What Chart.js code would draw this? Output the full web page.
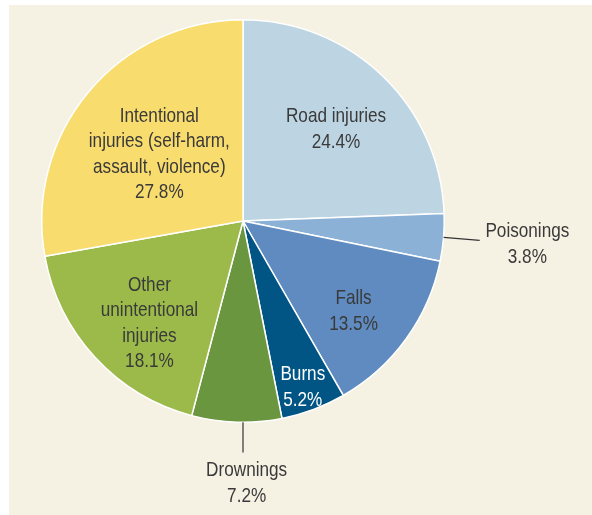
<!DOCTYPE html>
<html>
<head>
<meta charset="utf-8">
<script src="https://cdn.jsdelivr.net/npm/chart.js@4.4.0/dist/chart.umd.min.js"></script>
<style>
  html, body { margin: 0; padding: 0; background: #ffffff; }
  #wrap { position: relative; width: 592px; height: 515px; }
  #panel { position: absolute; left: 9px; top: 5px; right: 0; bottom: 0; background: #f5f1e3; }
  #chart { position: absolute; left: 0; top: 0; }
</style>
</head>
<body>
<div id="wrap">
  <div id="panel"></div>
  <canvas id="chart" width="592" height="515"></canvas>
</div>
<script>
// --- Data ---
const categories = ['Road injuries', 'Poisonings', 'Falls', 'Burns', 'Drownings', 'Other unintentional injuries', 'Intentional injuries (self-harm, assault, violence)'];
const labelLines = [
    ['Road injuries'],
    ['Poisonings'],
    ['Falls'],
    ['Burns'],
    ['Drownings'],
    ['Other', 'unintentional', 'injuries'],
    ['Intentional', 'injuries (self-harm,', 'assault, violence)']
];
const shares = [24.4, 3.8, 13.5, 5.2, 7.2, 18.1, 27.8];
const sliceColors = ['#bdd5e2', '#8cb1d7', '#5f8bc0', '#005584', '#6a963f', '#9cba4a', '#f9dc6e'];

// --- Label placement (radius as fraction of pie radius, angle in degrees from 3 o'clock) ---
const labelLayout = [
    { r: 0.656, angle: -45.2 },
    { r: 1.417, angle: 4.3, leader: [1.0, 1.18] },
    { r: 0.704, angle: 38.7 },
    { r: 0.869, angle: 70, color: '#ffffff' },
    { r: 1.295, angle: 89.2, leader: [1.0, 1.15], leaderAngle: 90 },
    { r: 0.683, angle: 132.9 },
    { r: 0.538, angle: 219.4 }
];

// no narrow font installed, so squeeze Liberation Sans horizontally
const FONT = '"Liberation Sans", Arial, sans-serif';
const FONT_SIZE = 21;
const SQUEEZE = 0.817;
const LINE_H = 25.5;
const CAP_HALF = 7.5;

const pieLabels = {
    id: 'pieLabels',
    afterDatasetsDraw(chart) {
        const ctx = chart.ctx;
        const arcs = chart.getDatasetMeta(0).data;
        ctx.save();
        ctx.font = FONT_SIZE + 'px ' + FONT;
        ctx.textAlign = 'center';
        ctx.textBaseline = 'alphabetic';
        arcs.forEach((arc, i) => {
            const lay = labelLayout[i];
            const R = arc.outerRadius;
            const mid = (arc.startAngle + arc.endAngle) / 2;
            const a = lay.angle !== undefined ? lay.angle * Math.PI / 180 : mid;
            if (lay.leader) {
                const la = lay.leaderAngle !== undefined ? lay.leaderAngle * Math.PI / 180 : mid;
                ctx.beginPath();
                ctx.strokeStyle = '#333333';
                ctx.lineWidth = 1.2;
                ctx.moveTo(arc.x + Math.cos(la) * R * lay.leader[0], arc.y + Math.sin(la) * R * lay.leader[0]);
                ctx.lineTo(arc.x + Math.cos(la) * R * lay.leader[1], arc.y + Math.sin(la) * R * lay.leader[1]);
                ctx.stroke();
            }
            const cx = arc.x + Math.cos(a) * R * lay.r;
            const cy = arc.y + Math.sin(a) * R * lay.r;
            const lines = labelLines[i].concat([shares[i].toFixed(1) + '%']);
            const y0 = cy - (lines.length - 1) * LINE_H / 2 + CAP_HALF;
            ctx.fillStyle = lay.color || '#3a3a3a';
            lines.forEach((t, k) => {
                ctx.save();
                ctx.translate(cx, y0 + k * LINE_H);
                ctx.scale(SQUEEZE, 1);
                ctx.fillText(t, 0, 0);
                ctx.restore();
            });
        });
        ctx.restore();
    }
};

new Chart(document.getElementById('chart'), {
    type: 'pie',
    data: {
        labels: categories,
        datasets: [{
            data: shares,
            backgroundColor: sliceColors,
            borderColor: '#ffffff',
            borderWidth: 1.5
        }]
    },
    options: {
        responsive: false,
        animation: false,
        layout: { padding: { left: 41, right: 147, top: 19, bottom: 92 } },
        plugins: {
            legend: { display: false },
            tooltip: { enabled: false }
        }
    },
    plugins: [pieLabels]
});
</script>
</body>
</html>
